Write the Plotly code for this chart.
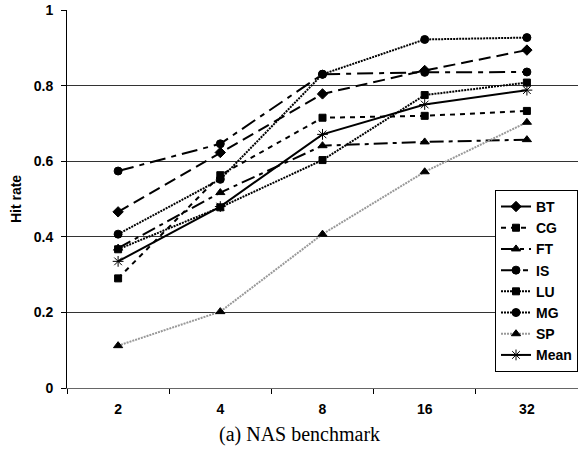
import plotly.graph_objects as go

categories = ["2", "4", "8", "16", "32"]
series_names = ["BT", "CG", "FT", "IS", "LU", "MG", "SP", "Mean"]
bt = [0.466, 0.623, 0.778, 0.840, 0.894]
cg = [0.290, 0.563, 0.715, 0.720, 0.733]
ft = [0.370, 0.517, 0.641, 0.651, 0.657]
is_ = [0.574, 0.646, 0.830, 0.835, 0.836]
lu = [0.367, 0.478, 0.603, 0.775, 0.808]
mg = [0.407, 0.552, 0.830, 0.922, 0.927]
sp = [0.112, 0.202, 0.407, 0.572, 0.703]
mean = [0.335, 0.480, 0.671, 0.750, 0.788]
values = [bt, cg, ft, is_, lu, mg, sp, mean]

styles = [
    dict(dash="12px,6px", color="black", symbol="diamond", size=8),
    dict(dash="5px,5px", color="black", symbol="square", size=7),
    dict(dash="14px,5px,4px,5px", color="black", symbol="triangle-up", size=8),
    dict(dash="16px,6px,5px,6px", color="black", symbol="circle", size=8),
    dict(dash="2px,1px", color="black", symbol="square", size=7),
    dict(dash="2px,1px", color="black", symbol="circle", size=8),
    dict(dash="2px,1px", color="#999999", symbol="triangle-up", size=8),
    dict(dash="solid", color="black", symbol="asterisk-open", size=9),
]

bold = dict(family="Liberation Sans, Arial", size=14, color="black", weight="bold")

fig = go.Figure()
for name, vals, st in zip(series_names, values, styles):
    fig.add_trace(go.Scatter(
        x=categories, y=vals, name=name, mode="lines+markers",
        line=dict(color=st["color"], width=2, dash=st["dash"]),
        marker=dict(symbol=st["symbol"], size=st["size"], color="black",
                    line=dict(color="black", width=1)),
    ))

fig.update_layout(
    width=578, height=456,
    margin=dict(l=67, r=0, t=10, b=68),
    paper_bgcolor="white", plot_bgcolor="white",
    font=dict(family="Liberation Sans, Arial", size=14, color="black"),
    showlegend=True,
    legend=dict(
        x=1, xanchor="right", y=0.524, yanchor="top",
        bordercolor="black", borderwidth=1, bgcolor="white",
        font=bold, tracegroupgap=0, itemwidth=30,
    ),
    xaxis=dict(
        type="category", showgrid=False, showline=True, linecolor="#666666", linewidth=1,
        ticks="outside", tickson="boundaries", ticklen=5, tickcolor="black",
        tickfont=bold, ticklabelstandoff=8,
        range=[-0.5, 4.5],
    ),
    yaxis=dict(
        range=[0, 1], dtick=0.2, showgrid=True, gridcolor="#333333", gridwidth=1,
        showline=True, linecolor="black", linewidth=1, zeroline=False,
        ticks="outside", ticklen=5, tickcolor="black",
        tickfont=bold, ticklabelstandoff=5,
        title=dict(text="Hit rate", standoff=8, font=bold),
    ),
    annotations=[dict(
        text="(a) NAS benchmark", xref="paper", yref="paper",
        x=(299 - 67) / 511, xanchor="center", y=-(434 - 388) / 378, yanchor="middle",
        showarrow=False, font=dict(family="Liberation Serif, Times New Roman", size=20, color="black"),
    )],
)

fig.write_html("out.html")
